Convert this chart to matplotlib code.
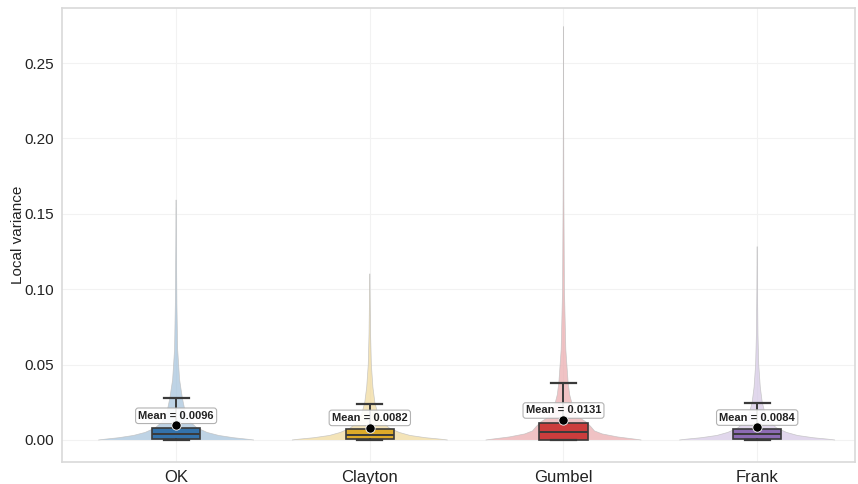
import matplotlib
matplotlib.use("Agg")
import matplotlib.pyplot as plt
import numpy as np

plt.rcParams["font.family"] = ["Liberation Sans", "DejaVu Sans"]

# Groups and their summary statistics
groups = ["OK", "Clayton", "Gumbel", "Frank"]
means = [0.0096, 0.0082, 0.0131, 0.0084]
q1 = [0.0007, 0.0007, 0.0002, 0.0006]
medians = [0.0042, 0.0035, 0.0051, 0.0040]
q3 = [0.0080, 0.0073, 0.0113, 0.0073]
whisk_lo = [0.0, 0.0, 0.0, 0.0]
whisk_hi = [0.0279, 0.0239, 0.0380, 0.0245]
maxima = [0.159, 0.110, 0.274, 0.128]

# Violin density outline: value levels and relative half-widths
dens_y = {
    "OK":      [0, 0.0005, 0.0015, 0.003, 0.005, 0.008, 0.012, 0.018, 0.028, 0.04, 0.06, 0.09, 0.13, 0.159],
    "Clayton": [0, 0.0005, 0.0015, 0.003, 0.005, 0.008, 0.012, 0.018, 0.025, 0.035, 0.05, 0.07, 0.095, 0.110],
    "Gumbel":  [0, 0.0005, 0.002, 0.004, 0.006, 0.009, 0.012, 0.015, 0.02, 0.03, 0.038, 0.06, 0.1, 0.16, 0.22, 0.274],
    "Frank":   [0, 0.0005, 0.0015, 0.003, 0.005, 0.008, 0.012, 0.018, 0.025, 0.035, 0.05, 0.07, 0.10, 0.128],
}
dens_w = {
    "OK":      [1.0, 0.92, 0.74, 0.55, 0.4, 0.27, 0.18, 0.12, 0.08, 0.045, 0.02, 0.01, 0.004, 0.001],
    "Clayton": [1.0, 0.92, 0.72, 0.52, 0.38, 0.25, 0.16, 0.1, 0.065, 0.04, 0.02, 0.01, 0.004, 0.001],
    "Gumbel":  [1.0, 0.93, 0.7, 0.5, 0.4, 0.35, 0.29, 0.2, 0.13, 0.08, 0.06, 0.03, 0.012, 0.005, 0.002, 0.001],
    "Frank":   [1.0, 0.92, 0.72, 0.52, 0.38, 0.25, 0.16, 0.1, 0.065, 0.04, 0.02, 0.01, 0.004, 0.001],
}

box_colors = ["#3472aa", "#dcaa2a", "#cc3d3d", "#8c6bb3"]
violin_colors = ["#a8c5dd", "#f1dba0", "#ecaeb1", "#d7cae6"]

fig = plt.figure(figsize=(8.58, 4.84), dpi=100)
ax = fig.add_axes([0.0723, 0.0455, 0.9242, 0.938])

positions = np.arange(len(groups))
violin_half = 0.4
box_half = 0.125
cap_half = 0.065

for i, g in enumerate(groups):
    ys = np.array(dens_y[g])
    ws = np.array(dens_w[g]) * violin_half
    ax.fill_betweenx(ys, i - ws, i + ws, facecolor=violin_colors[i], alpha=0.75,
                     edgecolor="none", zorder=2)
    # thin outline that shows as a faint grey stem on the long upper tail
    ax.plot(i - ws, ys, color="#bdbdbd", linewidth=0.5, alpha=0.8, zorder=2)
    ax.plot(i + ws, ys, color="#bdbdbd", linewidth=0.5, alpha=0.8, zorder=2)

stats = []
for i, g in enumerate(groups):
    stats.append(dict(med=medians[i], q1=q1[i], q3=q3[i],
                      whislo=whisk_lo[i], whishi=whisk_hi[i], fliers=[], label=g))

bp = ax.bxp(stats, positions=positions, widths=box_half * 2, patch_artist=True,
            showfliers=False, capwidths=cap_half * 2,
            boxprops=dict(edgecolor="#3a3a3a", linewidth=1.2),
            medianprops=dict(color="#3a3a3a", linewidth=1.4),
            whiskerprops=dict(color="#3a3a3a", linewidth=1.4),
            capprops=dict(color="#3a3a3a", linewidth=1.6),
            zorder=3)
for patch, c in zip(bp["boxes"], box_colors):
    patch.set_facecolor(c)

for i, m in enumerate(means):
    ax.scatter([i], [m], s=45, color="black", edgecolor="white", linewidth=0.6, zorder=6)
    ax.annotate(f"Mean = {m:.4f}", xy=(i, m), xytext=(0, 7), textcoords="offset points",
                ha="center", va="center", fontsize=8, fontweight="bold", color="#222222",
                bbox=dict(boxstyle="round,pad=0.25", facecolor="white", edgecolor="#aaaaaa",
                          linewidth=0.8, alpha=0.9),
                zorder=5)

ax.set_xlim(-0.589, 3.505)
ax.set_ylim(-0.0146, 0.2865)
ax.set_xticks(positions)
ax.set_xticklabels(groups, fontsize=12, color="#222222")
ax.set_yticks([0, 0.05, 0.10, 0.15, 0.20, 0.25])
ax.set_yticklabels([f"{v:.2f}" for v in [0, 0.05, 0.10, 0.15, 0.20, 0.25]], fontsize=11, color="#222222")
ax.tick_params(length=0, pad=6)
ax.set_ylabel("Local variance", fontsize=11, color="#222222", labelpad=-1)

ax.grid(True, color="#f2f2f2", linewidth=0.8, zorder=0)
ax.set_axisbelow(True)
for s in ax.spines.values():
    s.set_color("#d9d9d9")
    s.set_linewidth(1.2)

fig.savefig("out.png", dpi=100)
